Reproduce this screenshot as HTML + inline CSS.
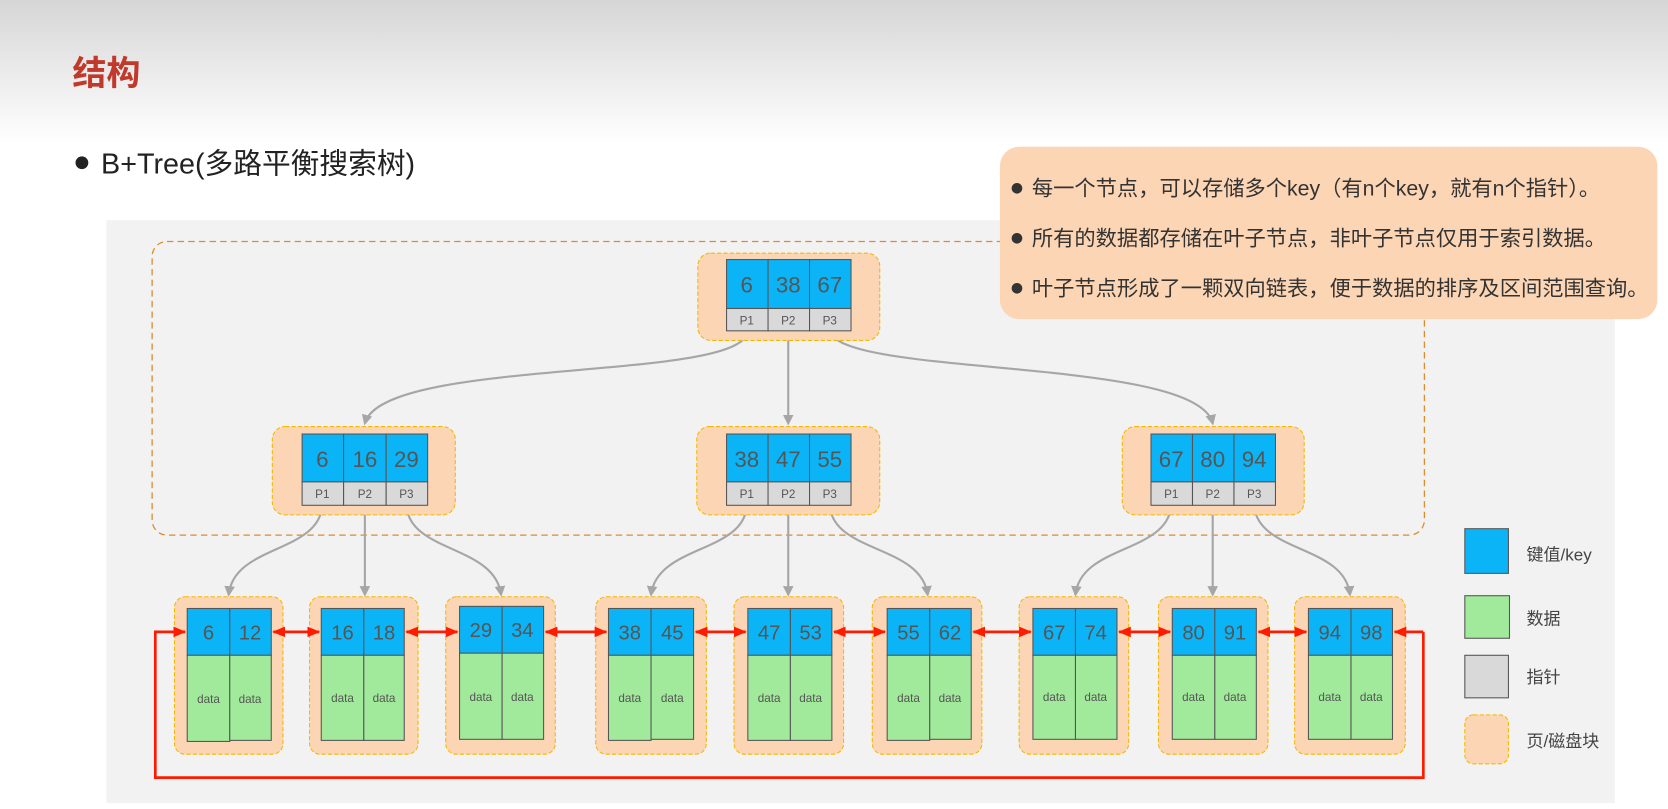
<!DOCTYPE html>
<html><head><meta charset="utf-8"><style>
html,body{margin:0;padding:0;width:1668px;height:809px;overflow:hidden;background:#fff}
svg{display:block}
text{font-family:"Liberation Sans","Noto Sans CJK SC",sans-serif}
</style></head><body>
<svg width="1668" height="809" viewBox="0 0 1568 760.5" preserveAspectRatio="none" xmlns="http://www.w3.org/2000/svg">
<defs>
<linearGradient id="bg" x1="0" y1="0" x2="0" y2="1"><stop offset="0" stop-color="#d6d6d6"/><stop offset="1" stop-color="#ffffff"/></linearGradient>
<marker id="ga" markerWidth="10" markerHeight="10" refX="8" refY="5" orient="auto" markerUnits="userSpaceOnUse"><path d="M0,0 L10,5 L0,10 Z" fill="#a6a6a6"/></marker>
<marker id="ra" markerWidth="12" markerHeight="12" refX="11" refY="6" orient="auto" markerUnits="userSpaceOnUse"><path d="M0,1 L12,6 L0,11 Z" fill="#ff1a00"/></marker>
<marker id="rs" markerWidth="12" markerHeight="12" refX="1" refY="6" orient="auto" markerUnits="userSpaceOnUse"><path d="M12,1 L0,6 L12,11 Z" fill="#ff1a00"/></marker>
</defs>
<rect x="0" y="0" width="1568" height="135" fill="url(#bg)"/>
<text x="68" y="80" font-size="32" font-weight="bold" fill="#c0392b">结构</text>
<circle cx="77" cy="153" r="6" fill="#222"/>
<text x="95" y="163" font-size="27" fill="#222">B+Tree(多路平衡搜索树)</text>

<rect x="100" y="207" width="1418" height="548" fill="#f2f2f2"/>
<rect x="143" y="227" width="1196" height="276" rx="14" fill="none" stroke="#e08a2a" stroke-width="1.2" stroke-dasharray="6,4"/>

<!-- callout -->
<rect x="940" y="138" width="618" height="162" rx="18" fill="#fcd5b4"/>
<g font-size="20" fill="#333">
<circle cx="956" cy="177" r="5" fill="#333"/><text x="970" y="184">每一个节点，可以存储多个key（有n个key，就有n个指针）。</text>
<circle cx="956" cy="224" r="5" fill="#333"/><text x="970" y="231">所有的数据都存储在叶子节点，非叶子节点仅用于索引数据。</text>
<circle cx="956" cy="271" r="5" fill="#333"/><text x="970" y="278">叶子节点形成了一颗双向链表，便于数据的排序及区间范围查询。</text>
</g>

<!-- gray connectors -->
<g fill="none" stroke="#a6a6a6" stroke-width="2" marker-end="url(#ga)">
<path d="M703,311 C700,360 360,335 343,398"/>
<path d="M741,311 L741,398"/>
<path d="M780,311 C790,355 1125,335 1140,398"/>
<path d="M303,475 C300,520 220,512 215,559"/>
<path d="M343,475 L343,559"/>
<path d="M382,475 C385,520 465,512 471,559"/>
<path d="M702,475 C700,520 618,512 612,559"/>
<path d="M741,475 L741,559"/>
<path d="M780,475 C783,520 866,512 872,559"/>
<path d="M1101,475 C1098,520 1016,512 1011,559"/>
<path d="M1140,475 L1140,559"/>
<path d="M1179,475 C1182,520 1264,512 1269,559"/>
</g>

<!-- internal nodes -->
<g stroke="#f5b800" stroke-width="1" stroke-dasharray="4,2" fill="#fcd5b4">
<rect x="656" y="238" width="171" height="82" rx="12"/>
<rect x="256" y="401" width="172" height="83" rx="12"/>
<rect x="655" y="401" width="172" height="83" rx="12"/>
<rect x="1055" y="401" width="171" height="83" rx="12"/>
</g>
<g stroke="#555" stroke-width="1">
<g fill="#0bb4f7">
<rect x="683" y="244" width="39" height="46"/><rect x="722" y="244" width="39" height="46"/><rect x="761" y="244" width="39" height="46"/>
<rect x="284" y="408" width="39" height="45"/><rect x="323" y="408" width="40" height="45"/><rect x="363" y="408" width="39" height="45"/>
<rect x="683" y="408" width="39" height="45"/><rect x="722" y="408" width="39" height="45"/><rect x="761" y="408" width="39" height="45"/>
<rect x="1082" y="408" width="39" height="45"/><rect x="1121" y="408" width="39" height="45"/><rect x="1160" y="408" width="39" height="45"/>
</g>
<g fill="#d9d9d9">
<rect x="683" y="290" width="39" height="21"/><rect x="722" y="290" width="39" height="21"/><rect x="761" y="290" width="39" height="21"/>
<rect x="284" y="453" width="39" height="22"/><rect x="323" y="453" width="40" height="22"/><rect x="363" y="453" width="39" height="22"/>
<rect x="683" y="453" width="39" height="22"/><rect x="722" y="453" width="39" height="22"/><rect x="761" y="453" width="39" height="22"/>
<rect x="1082" y="453" width="39" height="22"/><rect x="1121" y="453" width="39" height="22"/><rect x="1160" y="453" width="39" height="22"/>
</g>
</g>
<g font-size="21" fill="#555" text-anchor="middle">
<text x="702" y="275">6</text><text x="741" y="275">38</text><text x="780" y="275">67</text>
<text x="303" y="439">6</text><text x="343" y="439">16</text><text x="382" y="439">29</text>
<text x="702" y="439">38</text><text x="741" y="439">47</text><text x="780" y="439">55</text>
<text x="1101" y="439">67</text><text x="1140" y="439">80</text><text x="1179" y="439">94</text>
</g>
<g font-size="11" fill="#555" text-anchor="middle">
<text x="702" y="305">P1</text><text x="741" y="305">P2</text><text x="780" y="305">P3</text>
<text x="303" y="468">P1</text><text x="343" y="468">P2</text><text x="382" y="468">P3</text>
<text x="702" y="468">P1</text><text x="741" y="468">P2</text><text x="780" y="468">P3</text>
<text x="1101" y="468">P1</text><text x="1140" y="468">P2</text><text x="1179" y="468">P3</text>
</g>

<!-- leaves -->
<g stroke="#f5b800" stroke-width="1" stroke-dasharray="4,2" fill="#fcd5b4">
<rect x="164" y="561" width="102" height="148" rx="10"/>
<rect x="291" y="561" width="102" height="148" rx="10"/>
<rect x="419" y="561" width="103" height="148" rx="10"/>
<rect x="560" y="561" width="104" height="148" rx="10"/>
<rect x="690" y="561" width="103" height="148" rx="10"/>
<rect x="820" y="561" width="103" height="148" rx="10"/>
<rect x="958" y="561" width="103" height="148" rx="10"/>
<rect x="1089" y="561" width="103" height="148" rx="10"/>
<rect x="1217" y="561" width="104" height="148" rx="10"/>
</g>
<g stroke="#555" stroke-width="1">
<g fill="#0bb4f7">
<rect x="176" y="572" width="40" height="44"/><rect x="216" y="572" width="39" height="44"/>
<rect x="302" y="572" width="40" height="44"/><rect x="342" y="572" width="38" height="44"/>
<rect x="432" y="570" width="40" height="44"/><rect x="472" y="570" width="39" height="44"/>
<rect x="572" y="572" width="40" height="44"/><rect x="612" y="572" width="40" height="44"/>
<rect x="703" y="572" width="40" height="44"/><rect x="743" y="572" width="39" height="44"/>
<rect x="834" y="572" width="40" height="44"/><rect x="874" y="572" width="39" height="44"/>
<rect x="971" y="572" width="40" height="44"/><rect x="1011" y="572" width="39" height="44"/>
<rect x="1102" y="572" width="40" height="44"/><rect x="1142" y="572" width="39" height="44"/>
<rect x="1230" y="572" width="40" height="44"/><rect x="1270" y="572" width="39" height="44"/>
</g>
<g fill="#a1e99b">
<rect x="176" y="616" width="40" height="81"/><rect x="216" y="616" width="39" height="80"/>
<rect x="302" y="616" width="40" height="80"/><rect x="342" y="616" width="38" height="80"/>
<rect x="432" y="614" width="40" height="81"/><rect x="472" y="614" width="39" height="81"/>
<rect x="572" y="616" width="40" height="80"/><rect x="612" y="616" width="40" height="79"/>
<rect x="703" y="616" width="40" height="80"/><rect x="743" y="616" width="39" height="80"/>
<rect x="834" y="616" width="40" height="80"/><rect x="874" y="616" width="39" height="79"/>
<rect x="971" y="616" width="40" height="79"/><rect x="1011" y="616" width="39" height="79"/>
<rect x="1102" y="616" width="40" height="79"/><rect x="1142" y="616" width="39" height="79"/>
<rect x="1230" y="616" width="40" height="79"/><rect x="1270" y="616" width="39" height="79"/>
</g>
</g>
<g font-size="19" fill="#555" text-anchor="middle">
<text x="196" y="601">6</text><text x="235" y="601">12</text>
<text x="322" y="601">16</text><text x="361" y="601">18</text>
<text x="452" y="599">29</text><text x="491" y="599">34</text>
<text x="592" y="601">38</text><text x="632" y="601">45</text>
<text x="723" y="601">47</text><text x="762" y="601">53</text>
<text x="854" y="601">55</text><text x="893" y="601">62</text>
<text x="991" y="601">67</text><text x="1030" y="601">74</text>
<text x="1122" y="601">80</text><text x="1161" y="601">91</text>
<text x="1250" y="601">94</text><text x="1289" y="601">98</text>
</g>
<g font-size="11" fill="#555" text-anchor="middle">
<text x="196" y="661">data</text><text x="235" y="661">data</text>
<text x="322" y="660">data</text><text x="361" y="660">data</text>
<text x="452" y="659">data</text><text x="491" y="659">data</text>
<text x="592" y="660">data</text><text x="632" y="660">data</text>
<text x="723" y="660">data</text><text x="762" y="660">data</text>
<text x="854" y="660">data</text><text x="893" y="660">data</text>
<text x="991" y="659">data</text><text x="1030" y="659">data</text>
<text x="1122" y="659">data</text><text x="1161" y="659">data</text>
<text x="1250" y="659">data</text><text x="1289" y="659">data</text>
</g>

<!-- red links -->
<g stroke="#ff1a00" stroke-width="2.5" fill="none" marker-start="url(#rs)" marker-end="url(#ra)">
<path d="M257,594 L300,594"/>
<path d="M382,594 L430,594"/>
<path d="M513,594 L570,594"/>
<path d="M654,594 L701,594"/>
<path d="M784,594 L832,594"/>
<path d="M915,594 L969,594"/>
<path d="M1052,594 L1100,594"/>
<path d="M1183,594 L1228,594"/>
</g>
<path d="M1338,594 L1338,731 L146,731 L146,594 L174,594" stroke="#ff1a00" stroke-width="2.5" fill="none" marker-end="url(#ra)"/>
<path d="M1338,594 L1311,594" stroke="#ff1a00" stroke-width="2.5" fill="none" marker-end="url(#ra)"/>

<!-- legend -->
<g stroke="#555" stroke-width="1">
<rect x="1377" y="497" width="41" height="42" fill="#0bb4f7"/>
<rect x="1377" y="560" width="42" height="40" fill="#a1e99b"/>
<rect x="1377" y="616" width="41" height="40" fill="#d9d9d9"/>
</g>
<rect x="1377" y="672" width="41" height="46" rx="8" fill="#fcd5b4" stroke="#f5b800" stroke-dasharray="4,2"/>
<g font-size="16" fill="#444">
<text x="1435" y="527">键值/key</text>
<text x="1435" y="587">数据</text>
<text x="1435" y="642">指针</text>
<text x="1435" y="702">页/磁盘块</text>
</g>
</svg>
</body></html>
